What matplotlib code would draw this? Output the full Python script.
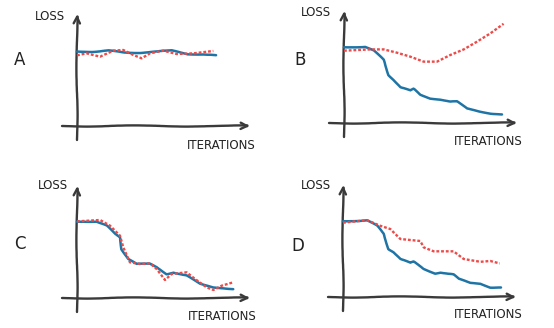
import numpy as np
import matplotlib.pyplot as plt

# iteration positions and loss values (loss 0 = x-axis)
a_iter_train = [0, 10, 20, 30, 40, 50, 60, 70, 80, 88]
a_train = [0.93, 0.93, 0.942, 0.917, 0.917, 0.93, 0.942, 0.90, 0.896, 0.88]
a_iter_val = [0, 6, 14.6, 23, 29.3, 35.6, 40.9, 46.2, 54.6, 63, 73.6, 86.3]
a_val = [0.883, 0.908, 0.867, 0.942, 0.95, 0.888, 0.846, 0.908, 0.942, 0.90, 0.908, 0.938]

b_iter_train = [0, 13.5, 18.8, 25.1, 28.3, 31.4, 35.7, 42, 44.1, 48.3, 54.6, 60.9,
                67.3, 71.5, 77.8, 86.3, 92.6, 100]
b_train = [0.946, 0.954, 0.904, 0.79, 0.60, 0.54, 0.446, 0.404, 0.425, 0.35, 0.308, 0.296,
           0.267, 0.267, 0.18, 0.142, 0.121, 0.108]
b_iter_val = [0, 16.7, 25.1, 33.5, 42, 50.4, 58.9, 67.3, 75.8, 84.2, 92.6, 101]
b_val = [0.904, 0.92, 0.92, 0.879, 0.829, 0.767, 0.767, 0.85, 0.92, 1.017, 1.12, 1.24]

c_iter_train = [0, 12.4, 18.8, 24, 27.2, 28.3, 32.5, 37.8, 46.2, 50.4, 56.8, 61,
                69.4, 77.8, 86.3, 92.6, 98.9]
c_train = [0.954, 0.958, 0.904, 0.80, 0.758, 0.61, 0.49, 0.425, 0.425, 0.383, 0.30, 0.321,
           0.279, 0.175, 0.133, 0.125, 0.113]
c_iter_val = [0, 14.6, 20.9, 27.2, 29.3, 33.5, 39.9, 46.2, 50.4, 55.7, 59.9, 69.4,
              74.7, 82.1, 86.3, 91.6, 98.9]
c_val = [0.958, 0.975, 0.904, 0.779, 0.633, 0.446, 0.425, 0.433, 0.363, 0.225, 0.30, 0.321,
         0.2375, 0.133, 0.10, 0.154, 0.196]

d_iter_train = [0, 15.2, 21.5, 25.7, 28.9, 32.1, 36.3, 42.6, 44.7, 51.1, 58.4, 61.6,
                70, 73.2, 80.6, 86.9, 93.2, 100]
d_train = [0.946, 0.96, 0.89, 0.79, 0.60, 0.56, 0.475, 0.425, 0.44, 0.35, 0.296, 0.308,
           0.279, 0.225, 0.175, 0.167, 0.121, 0.121]
d_iter_val = [0, 15.2, 23.6, 29.9, 36.3, 42.6, 48.9, 51.1, 57.4, 70, 76.4, 86.9, 93.2, 99.2]
d_val = [0.929, 0.96, 0.89, 0.85, 0.725, 0.7125, 0.70, 0.62, 0.571, 0.571, 0.475, 0.44,
         0.45, 0.42]

panel_names = ['A', 'B', 'C', 'D']

W, H = 554, 328
BLUE = '#1f74a6'
RED = '#ee4a48'
AXIS = '#3a3a3a'
TEXT = '#222222'

fig = plt.figure(figsize=(W / 100, H / 100), dpi=100)

# pixel layout: (axis origin, letter position, LOSS position, ITERATIONS position)
layout = [
    ((77, 126), (20, 60), (50, 17), (221, 145)),
    ((344, 123), (300, 60), (316, 13), (488, 141)),
    ((77, 298), (20, 244), (53, 186), (222, 316)),
    ((343, 297), (298, 246), (316, 186), (488, 314)),
]
series = [
    (a_iter_train, a_train, a_iter_val, a_val),
    (b_iter_train, b_train, b_iter_val, b_val),
    (c_iter_train, c_train, c_iter_val, c_val),
    (d_iter_train, d_train, d_iter_val, d_val),
]

px_per_iter = 1.58
px_per_loss = 80
left_ext, right_ext, top_ext, bot_ext = 15, 173, 112, 14


def fig_xy(x, y):
    return x / W, 1 - y / H


for name, (origin, letter_pos, loss_pos, iter_pos), (xt, yt, xv, yv) in zip(panel_names, layout, series):
    ox, oy = origin
    ax = fig.add_axes([(ox - left_ext) / W, (H - (oy + bot_ext)) / H,
                       (left_ext + right_ext) / W, (top_ext + bot_ext) / H])
    x0, x1 = -left_ext / px_per_iter, right_ext / px_per_iter
    y0, y1 = -bot_ext / px_per_loss, top_ext / px_per_loss
    ax.set_xlim(x0, x1)
    ax.set_ylim(y0, y1)
    ax.axis('off')

    arrow = dict(arrowstyle='->', color=AXIS, lw=1.7, mutation_scale=12,
                 shrinkA=0, shrinkB=0)
    for tip, tail in [((x1, 0), (x0, 0)), ((0, y1), (0, y0))]:
        an = ax.annotate('', xy=tip, xytext=tail, arrowprops=arrow)
        an.arrow_patch.set_sketch_params(scale=0.6, length=120, randomness=3)

    tl, = ax.plot(xt, yt, color=BLUE, lw=1.8, solid_capstyle='round',
                  solid_joinstyle='round', zorder=3)
    vl, = ax.plot(xv, yv, color=RED, lw=1.7, linestyle=(0, (1.2, 0.8)), zorder=4)
    tl.set_sketch_params(scale=0.4, length=60, randomness=3)

    fig.text(*fig_xy(*letter_pos), name, fontsize=12, ha='center', va='center', color=TEXT)
    fig.text(*fig_xy(*loss_pos), 'LOSS', fontsize=8.5, ha='center', va='center',
             color=TEXT, family='DejaVu Sans Condensed')
    fig.text(*fig_xy(*iter_pos), 'ITERATIONS', fontsize=8.5, ha='center', va='center',
             color=TEXT, family='DejaVu Sans Condensed')

fig.savefig('out.png', dpi=100)
